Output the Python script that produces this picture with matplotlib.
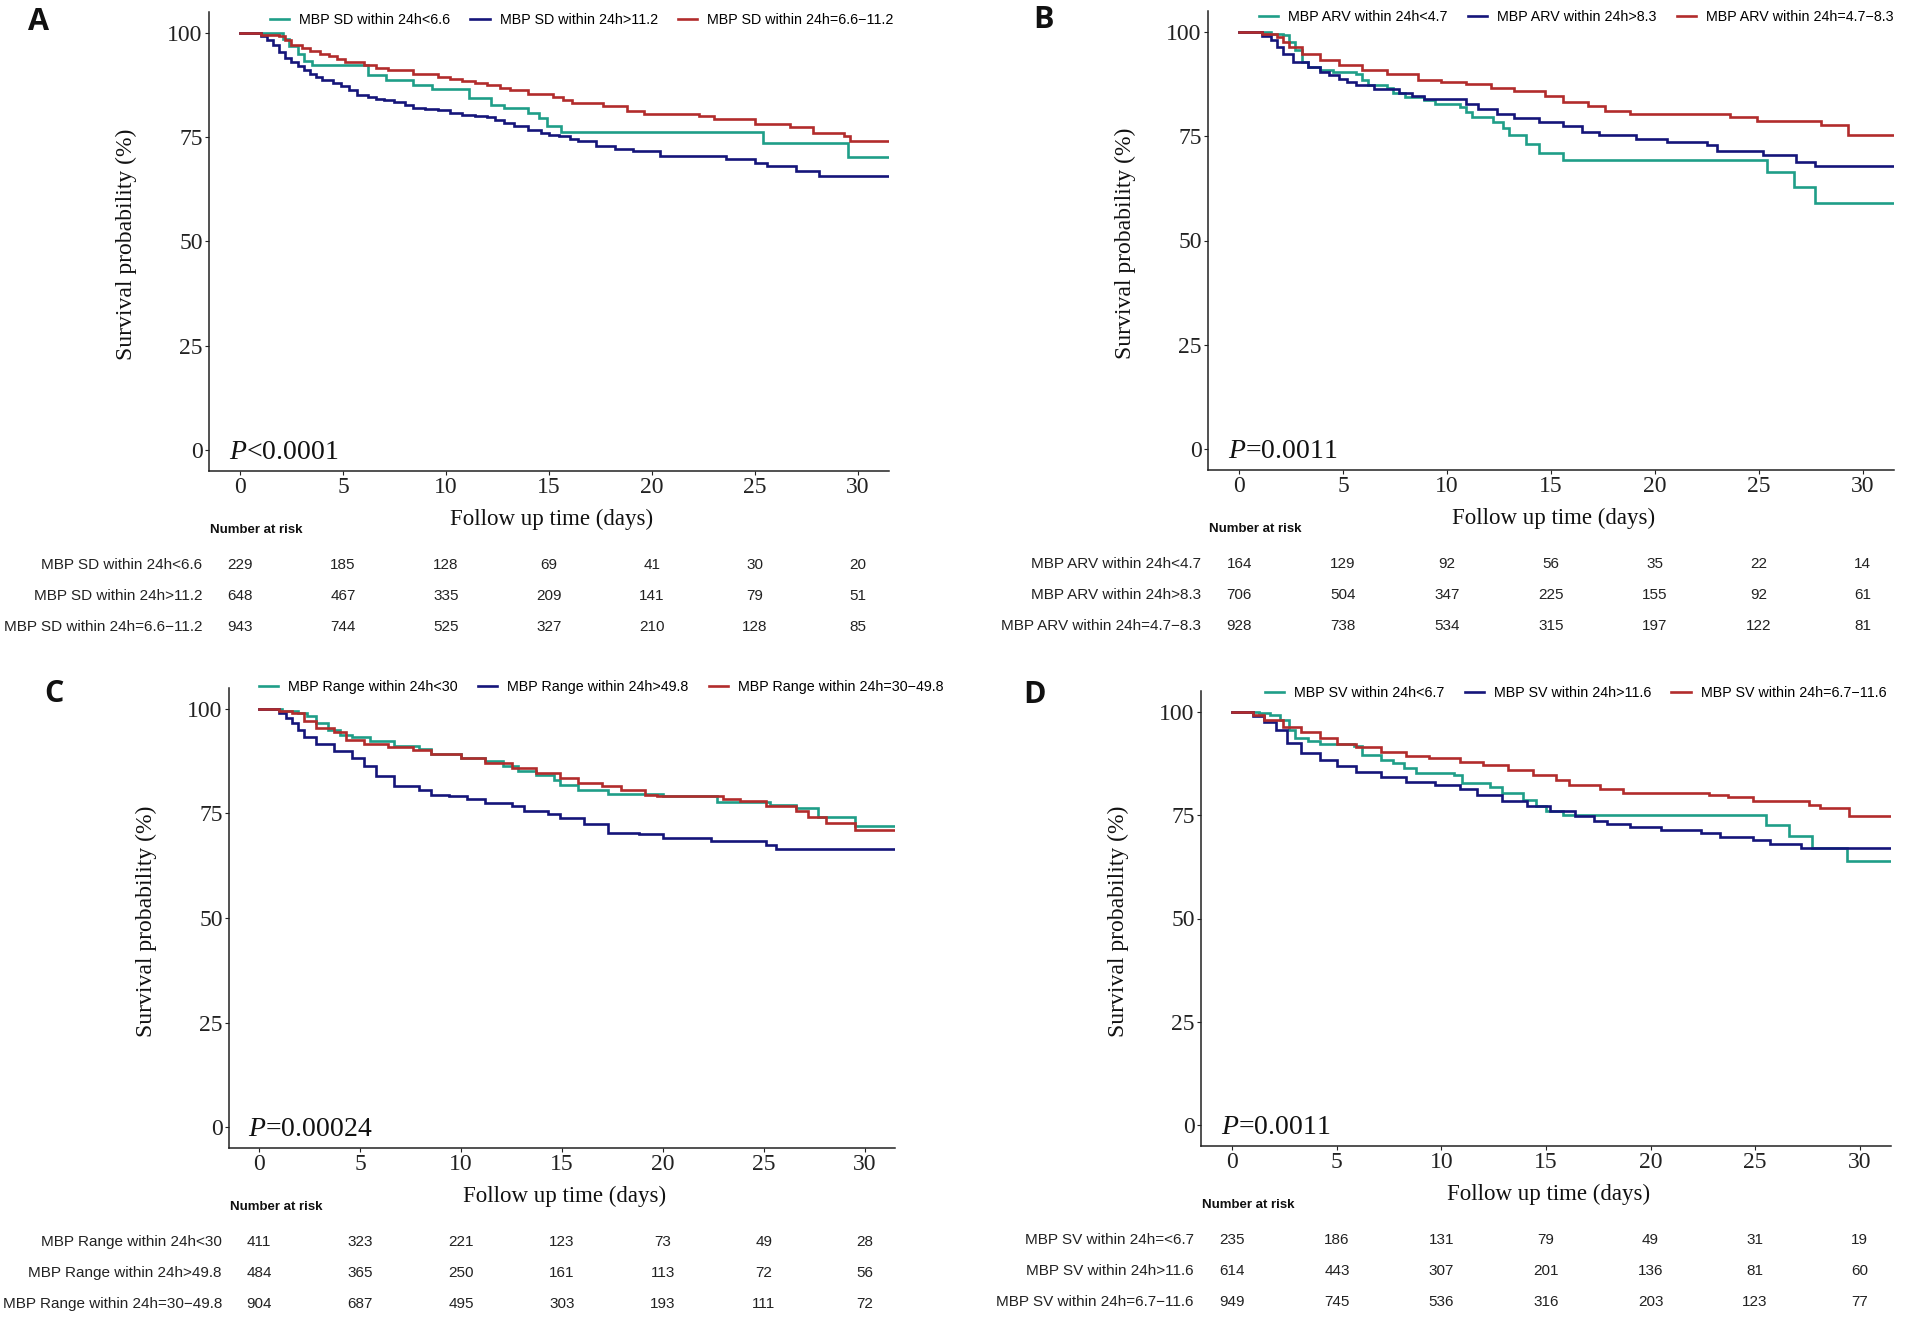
import matplotlib
matplotlib.use('Agg')
import matplotlib.pyplot as plt
from matplotlib.transforms import blended_transform_factory

plt.rcParams['mathtext.fontset'] = 'custom'
plt.rcParams['mathtext.rm'] = 'Liberation Serif'
plt.rcParams['mathtext.it'] = 'Liberation Serif:italic'

W, H = 1911, 1319
SERIF = 'Liberation Serif'
SANS = 'Liberation Sans'
c_teal = '#1f9e88'
c_navy = '#15157a'
c_red = '#b22c2c'

# ---------------- data ----------------
days = [0, 5, 10, 15, 20, 25, 30]
y_ticks = [0, 25, 50, 75, 100]
max_follow = 31.5

a_legend = ['MBP SD within 24h<6.6', 'MBP SD within 24h>11.2', 'MBP SD within 24h=6.6\u221211.2']
a_table = ['MBP SD within 24h<6.6', 'MBP SD within 24h>11.2', 'MBP SD within 24h=6.6\u221211.2']
a_risk_low = [229, 185, 128, 69, 41, 30, 20]
a_risk_high = [648, 467, 335, 209, 141, 79, 51]
a_risk_mid = [943, 744, 525, 327, 210, 128, 85]
a_p = r'$\mathit{P}$<0.0001'
a_low = [(0, 100), (2.1, 98.5), (2.4, 96.8), (2.8, 95.0), (3.1, 93.2), (3.5, 92.2), (6.2, 90.0), (7.1, 88.8),
         (8.4, 87.4), (9.3, 86.6), (11.1, 84.4), (12.2, 82.6), (12.8, 82.0), (14.0, 80.8), (14.5, 79.6),
         (14.9, 77.6), (15.6, 76.3), (25.4, 73.6), (29.5, 70.2), (31.5, 70.2)]
a_high = [(0, 100), (1.0, 99.3), (1.3, 98.3), (1.6, 97.2), (1.9, 95.5), (2.2, 94.0), (2.5, 93.0), (2.8, 92.0),
          (3.1, 91.0), (3.4, 90.2), (3.7, 89.5), (4.0, 88.8), (4.5, 88.0), (4.9, 87.2), (5.3, 86.2), (5.7, 85.2),
          (6.2, 84.7), (6.6, 84.2), (7.0, 83.8), (7.5, 83.4), (8.0, 82.7), (8.4, 82.0), (9.0, 81.7), (9.6, 81.4),
          (10.2, 80.9), (10.8, 80.4), (11.4, 80.1), (12.0, 79.8), (12.4, 79.1), (12.8, 78.4), (13.3, 77.6),
          (14.0, 76.8), (14.6, 76.0), (15.0, 75.6), (15.5, 75.2), (16.0, 74.6), (16.4, 74.0), (17.3, 72.8),
          (18.2, 72.2), (19.1, 71.6), (20.4, 70.6), (23.6, 69.8), (25.0, 68.8), (25.6, 68.0), (27.0, 66.8),
          (28.1, 65.8), (31.5, 65.8)]
a_mid = [(0, 100), (1.0, 99.6), (1.9, 99.2), (2.2, 98.2), (2.5, 97.2), (3.0, 96.4), (3.4, 95.6), (3.9, 95.0),
         (4.3, 94.4), (4.7, 93.7), (5.1, 93.0), (6.0, 92.2), (6.6, 91.6), (7.2, 91.0), (8.4, 90.2), (9.6, 89.4),
         (10.2, 88.9), (10.8, 88.4), (11.4, 87.9), (12.0, 87.4), (12.6, 86.9), (13.1, 86.4), (14.0, 85.4),
         (15.2, 84.6), (15.7, 83.9), (16.1, 83.2), (17.6, 82.4), (18.8, 81.2), (19.6, 80.6), (22.3, 80.0),
         (23.0, 79.4), (25.0, 78.2), (26.7, 77.4), (27.8, 76.0), (29.3, 75.2), (29.6, 74.2), (31.5, 74.2)]

b_legend = ['MBP ARV within 24h<4.7', 'MBP ARV within 24h>8.3', 'MBP ARV within 24h=4.7\u22128.3']
b_table = ['MBP ARV within 24h<4.7', 'MBP ARV within 24h>8.3', 'MBP ARV within 24h=4.7\u22128.3']
b_risk_low = [164, 129, 92, 56, 35, 22, 14]
b_risk_high = [706, 504, 347, 225, 155, 92, 61]
b_risk_mid = [928, 738, 534, 315, 197, 122, 81]
b_p = r'$\mathit{P}$=0.0011'
b_low = [(0, 100), (1.55, 99.6), (2.1, 99.2), (2.4, 97.6), (2.7, 95.6), (3.0, 92.8), (3.3, 91.6), (3.9, 90.8),
         (4.5, 90.4), (5.6, 89.9), (5.9, 88.4), (6.2, 87.2), (7.1, 86.6), (7.4, 85.4), (8.0, 84.4), (8.9, 83.6),
         (9.4, 82.8), (10.6, 82.0), (10.9, 80.8), (11.2, 79.6), (12.2, 78.5), (12.7, 76.9), (13.0, 75.3),
         (13.8, 73.1), (14.4, 71.0), (15.6, 69.3), (25.4, 66.3), (26.7, 62.9), (27.7, 59.1), (31.5, 59.1)]
b_high = [(0, 100), (1.1, 99.0), (1.55, 98.0), (1.8, 96.4), (2.1, 94.8), (2.6, 92.8), (3.3, 91.6), (3.9, 90.4),
          (4.3, 89.6), (4.8, 88.8), (5.2, 88.0), (5.6, 87.2), (6.5, 86.2), (7.7, 85.4), (8.3, 84.7), (8.9, 84.0),
          (10.0, 83.8), (10.9, 82.8), (11.5, 81.4), (12.4, 80.4), (13.2, 79.4), (14.4, 78.4), (15.6, 77.4),
          (16.5, 76.0), (17.3, 75.2), (19.1, 74.4), (20.6, 73.6), (22.5, 72.8), (23.0, 71.4), (25.2, 70.5),
          (26.8, 68.8), (27.7, 67.8), (31.5, 67.8)]
b_mid = [(0, 100), (1.1, 99.6), (1.8, 98.8), (2.1, 97.6), (2.4, 96.4), (3.0, 94.8), (3.9, 93.2), (4.8, 92.0),
         (5.9, 90.8), (7.1, 89.9), (8.6, 88.4), (9.7, 88.0), (10.9, 87.5), (12.1, 86.6), (13.2, 85.8),
         (14.7, 84.6), (15.6, 83.2), (16.8, 82.2), (17.6, 81.0), (18.8, 80.3), (23.6, 79.5), (24.9, 78.6),
         (28.0, 77.6), (29.3, 75.3), (31.5, 75.3)]

c_legend = ['MBP Range within 24h<30', 'MBP Range within 24h>49.8', 'MBP Range within 24h=30\u221249.8']
c_table = ['MBP Range within 24h<30', 'MBP Range within 24h>49.8', 'MBP Range within 24h=30\u221249.8']
c_risk_low = [411, 323, 221, 123, 73, 49, 28]
c_risk_high = [484, 365, 250, 161, 113, 72, 56]
c_risk_mid = [904, 687, 495, 303, 193, 111, 72]
c_p = r'$\mathit{P}$=0.00024'
c_low = [(0, 100), (1.15, 99.6), (1.9, 99.0), (2.35, 98.2), (2.8, 96.6), (3.4, 95.0), (4.0, 93.8), (4.6, 93.2),
         (5.5, 92.3), (6.7, 91.2), (7.9, 90.3), (8.5, 89.3), (10.0, 88.3), (11.2, 87.5), (12.1, 86.4),
         (12.8, 85.1), (13.7, 84.3), (14.6, 83.1), (14.9, 81.9), (15.8, 80.7), (17.3, 79.7), (20.0, 79.2),
         (22.7, 77.8), (25.3, 77.0), (26.6, 76.2), (27.7, 74.2), (29.5, 71.9), (31.5, 71.9)]
c_high = [(0, 100), (1.0, 99.0), (1.3, 97.8), (1.6, 96.6), (1.9, 95.0), (2.2, 93.4), (2.8, 91.7), (3.7, 89.9),
          (4.6, 88.3), (5.2, 86.3), (5.8, 83.9), (6.7, 81.6), (7.9, 80.7), (8.5, 79.5), (9.4, 79.1), (10.3, 78.4),
          (11.2, 77.6), (12.5, 76.7), (13.1, 75.5), (14.3, 74.9), (14.9, 73.9), (16.1, 72.5), (17.3, 70.4),
          (18.8, 70.1), (20.0, 69.1), (22.4, 68.3), (25.1, 67.5), (25.6, 66.5), (31.5, 66.5)]
c_mid = [(0, 100), (1.0, 99.6), (1.6, 99.0), (2.2, 97.0), (2.8, 95.4), (3.7, 94.4), (4.3, 92.6), (5.2, 91.5),
         (6.4, 90.9), (7.6, 90.1), (8.5, 89.1), (10.0, 88.3), (11.2, 87.1), (12.5, 85.9), (13.7, 84.7),
         (14.9, 83.5), (15.8, 82.3), (17.0, 81.6), (17.9, 80.5), (19.1, 79.5), (19.7, 79.1), (23.0, 78.4),
         (23.8, 77.9), (25.1, 76.7), (26.6, 75.5), (27.2, 74.1), (28.1, 72.8), (29.5, 71.1), (31.5, 71.1)]

d_legend = ['MBP SV within 24h<6.7', 'MBP SV within 24h>11.6', 'MBP SV within 24h=6.7\u221211.6']
d_table = ['MBP SV within 24h=<6.7', 'MBP SV within 24h>11.6', 'MBP SV within 24h=6.7\u221211.6']
d_risk_low = [235, 186, 131, 79, 49, 31, 19]
d_risk_high = [614, 443, 307, 201, 136, 81, 60]
d_risk_mid = [949, 745, 536, 316, 203, 123, 77]
d_p = r'$\mathit{P}$=0.0011'
d_low = [(0, 100), (1.25, 99.6), (1.8, 99.2), (2.3, 98.0), (2.7, 95.6), (3.0, 93.6), (3.6, 92.8), (4.2, 92.2),
         (5.8, 91.7), (6.2, 89.5), (7.1, 88.3), (7.7, 87.5), (8.2, 86.3), (8.8, 85.1), (10.6, 84.7), (11.0, 82.7),
         (12.3, 81.9), (12.9, 80.4), (13.9, 78.7), (14.5, 77.1), (15.0, 75.9), (15.8, 75.1), (25.5, 72.7),
         (26.6, 70.0), (27.7, 67.0), (29.4, 63.8), (31.5, 63.8)]
d_high = [(0, 100), (1.0, 99.0), (1.5, 97.6), (2.1, 95.6), (2.6, 92.4), (3.3, 90.0), (4.2, 88.3), (5.0, 86.9),
          (5.9, 85.5), (7.1, 84.1), (8.3, 83.1), (9.7, 82.3), (10.9, 81.3), (11.7, 79.9), (12.9, 78.3),
          (14.1, 77.1), (15.2, 75.9), (16.4, 74.8), (17.3, 73.5), (17.9, 72.8), (19.0, 72.2), (20.5, 71.3),
          (22.4, 70.6), (23.3, 69.8), (24.9, 69.0), (25.7, 68.0), (27.2, 67.0), (31.5, 67.0)]
d_mid = [(0, 100), (1.0, 99.2), (1.5, 98.0), (2.4, 96.4), (3.3, 95.2), (4.2, 93.6), (5.0, 92.2), (5.9, 91.4),
         (7.1, 90.3), (8.3, 89.3), (9.4, 88.7), (10.9, 87.9), (12.0, 87.1), (13.2, 85.9), (14.4, 84.7),
         (15.5, 83.5), (16.1, 82.3), (17.6, 81.3), (18.7, 80.4), (22.8, 79.9), (23.7, 79.3), (24.9, 78.3),
         (27.6, 77.5), (28.1, 76.7), (29.5, 74.8), (31.5, 74.8)]

# ---------------- layout (pixels) ----------------
# panel letter, axes box (left, top, right, bottom), legend left/centre y, letter position
panels = [
    ('A', (209, 12, 889, 471), (270, 20), (38, 22), a_legend, a_table, [a_risk_low, a_risk_high, a_risk_mid], a_p, [a_low, a_high, a_mid]),
    ('B', (1208, 11, 1894, 470), (1259, 17), (1044, 20), b_legend, b_table, [b_risk_low, b_risk_high, b_risk_mid], b_p, [b_low, b_high, b_mid]),
    ('C', (229, 688, 895, 1148), (259, 687), (54, 694), c_legend, c_table, [c_risk_low, c_risk_high, c_risk_mid], c_p, [c_low, c_high, c_mid]),
    ('D', (1201, 691, 1891, 1146), (1265, 693), (1035, 695), d_legend, d_table, [d_risk_low, d_risk_high, d_risk_mid], d_p, [d_low, d_high, d_mid]),
]
colors = [c_teal, c_navy, c_red]
row_offsets = [94, 125, 156]

fig = plt.figure(figsize=(W / 100, H / 100), dpi=100)
fig.patch.set_facecolor('white')


def fy(py):
    return 1 - py / H


for letter, box, leg_pos, let_pos, leg_labels, tab_labels, risks, ptxt, curves in panels:
    l, t, r, b = box
    ax = fig.add_axes([l / W, fy(b), (r - l) / W, (b - t) / H])
    handles = []
    for curve, col, lab in zip(curves, colors, leg_labels):
        tt = [p[0] for p in curve]
        ss = [p[1] for p in curve]
        h, = ax.step(tt, ss, where='post', color=col, lw=1.9, label=lab, solid_joinstyle='miter')
        handles.append(h)

    ax.set_xlim(-1.5, max_follow)
    ax.set_ylim(-5, 105)
    ax.set_xticks(days)
    ax.set_yticks(y_ticks)
    for s in ['top', 'right']:
        ax.spines[s].set_visible(False)
    for s in ['left', 'bottom']:
        ax.spines[s].set_linewidth(1.1)
        ax.spines[s].set_color('#222222')
    ax.tick_params(length=3, width=0.8, pad=1.5, colors='#222222', labelsize=17)
    for lab in ax.get_xticklabels() + ax.get_yticklabels():
        lab.set_family(SERIF)

    # p value
    ax.text(-0.55, -2.2, ptxt, fontsize=20, family=SERIF, ha='left', va='baseline', color='#111111')

    # axis titles
    fig.text((l - 83) / W, fy((t + b) / 2 + 3), 'Survival probability (%)', rotation=90,
             ha='center', va='center', fontsize=17, family=SERIF, color='#111111')
    fig.text((l + r) / 2 / W + 3 / W, fy(b + 48), 'Follow up time (days)', ha='center', va='center',
             fontsize=16.5, family=SERIF, color='#111111')

    # legend
    fig.legend(handles=handles, loc='center left', bbox_to_anchor=(leg_pos[0] / W, fy(leg_pos[1])),
               ncol=3, frameon=False, prop={'family': SANS, 'size': 10.3}, handlelength=1.35,
               handletextpad=0.7, columnspacing=1.4, borderpad=0, borderaxespad=0)

    # panel letter
    fig.text(let_pos[0] / W, fy(let_pos[1]), letter, ha='center', va='center', fontsize=22,
             fontweight='bold', family='Open Sans', color='#111111')

    # number at risk table
    tr = blended_transform_factory(ax.transData, fig.transFigure)
    fig.text(l / W + 1 / W, fy(b + 59), 'Number at risk', ha='left', va='center', fontsize=9.5,
             fontweight='bold', family=SANS, color='#111111')
    for row, (lab, vals) in enumerate(zip(tab_labels, risks)):
        yy = fy(b + row_offsets[row])
        fig.text((l - 7) / W, yy, lab, ha='right', va='center', fontsize=11, family=SANS, color='#222222')
        for d, v in zip(days, vals):
            ax.text(d, yy, str(v), transform=tr, ha='center', va='center', fontsize=11,
                    family=SANS, color='#222222', clip_on=False)

fig.savefig('out.png', dpi=100, facecolor='white')
